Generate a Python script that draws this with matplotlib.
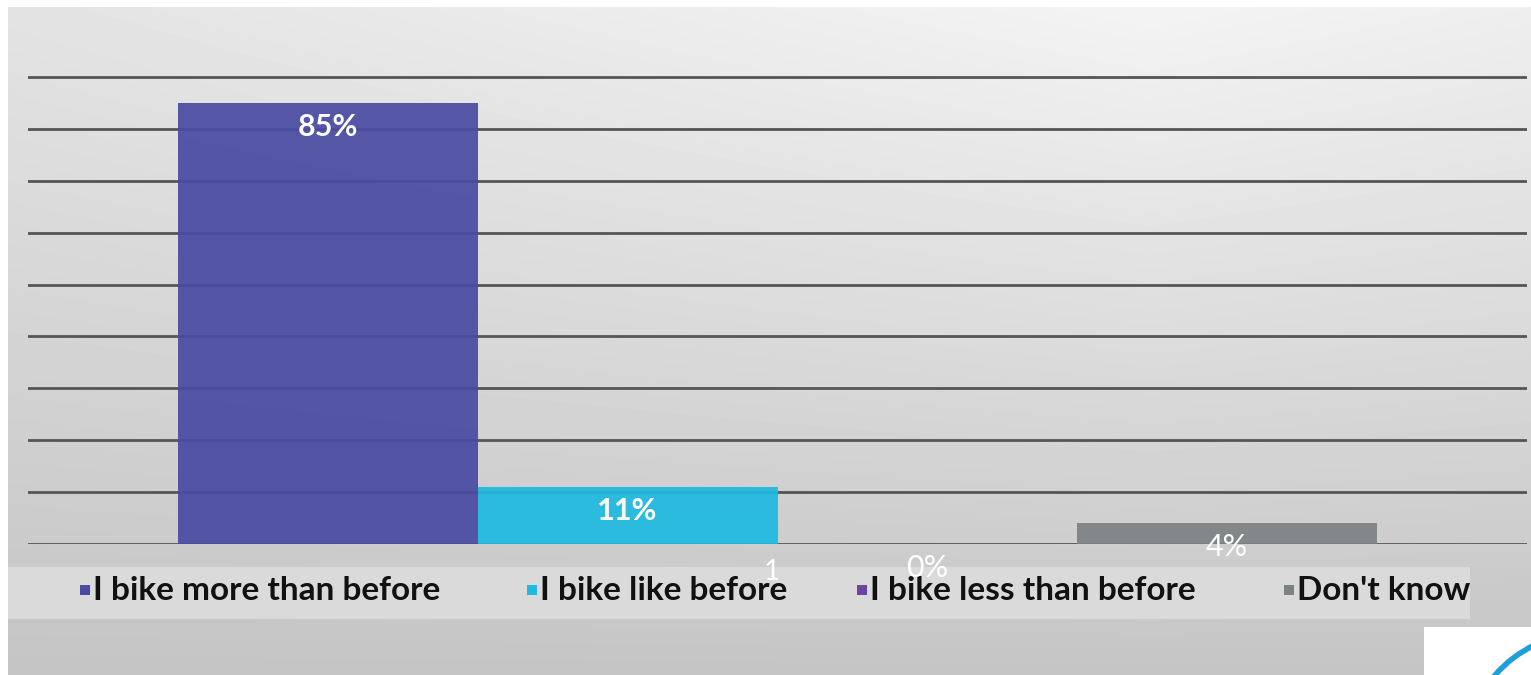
import numpy as np
import matplotlib
matplotlib.use("Agg")
import matplotlib.pyplot as plt
from matplotlib.patches import Rectangle, Arc

# data
categories = ["I bike more than before", "I bike like before",
              "I bike less than before", "Don't know"]
values = [85, 11, 0, 4]
labels = ["85%", "11%", "0%", "4%"]
colors = ["#4b4ba3", "#1fbae0", "#6a44a0", "#7d8284"]

W, H = 1531, 675
plt.rcParams['font.family'] = ['Lato', 'DejaVu Sans']

fig = plt.figure(figsize=(W / 100, H / 100), dpi=100, facecolor='white')

# decoration layer in pixel coordinates
bg = fig.add_axes([0, 0, 1, 1], zorder=0)
bg.axis('off')

yy, xx = np.mgrid[7:H, 8:W].astype(float)
fy = (yy - 7) / (H - 7)
grad = 0.955 - 0.185 * fy - 0.065 * (np.abs(xx - 1150) / 1150) * (1 - fy)
bg.imshow(grad, cmap='gray', vmin=0, vmax=1, extent=(8, W, H, 7),
          aspect='auto', interpolation='bilinear')
bg.set_xlim(0, W)
bg.set_ylim(H, 0)

# legend strip
bg.add_patch(Rectangle((8, 567), 1462, 52, facecolor='#dadada', edgecolor='none'))

# logo corner
bg.add_patch(Rectangle((1424, 627), W - 1424, H - 627, facecolor='white', edgecolor='none'))
bg.add_patch(Arc((1600, 740), 260, 220, theta1=200, theta2=250,
                 color='#1e9fd8', lw=4))

# main chart
ax = fig.add_axes([28 / W, (H - 544) / H, 1499 / W, 519 / H], zorder=1)
ax.patch.set_alpha(0)
x = np.arange(len(values))
ax.bar(x, values, width=1.0, color=colors, alpha=0.93, zorder=2)
ax.set_xlim(-1.0, 4.0)
ax.set_ylim(0, 100)
ax.set_yticks(range(0, 100, 10))
ax.yaxis.grid(True, color='#555555', lw=2.0, zorder=1)
ax.set_axisbelow(True)
ax.tick_params(left=False, bottom=False, labelleft=False, labelbottom=False)
for s in ax.spines.values():
    s.set_visible(False)

for i, (v, lab) in enumerate(zip(values, labels)):
    ax.text(i, v - 4.6, lab, ha='center', va='center', color='white',
            fontsize=22, fontweight='bold' if v > 5 else 'normal',
            clip_on=False, zorder=4)
ax.text(1.48, -5.4, "1", ha='center', va='center', color='white',
        fontsize=20, clip_on=False, zorder=4)

# legend entries
marker_x = [80, 527, 857, 1284]
for mx, cat, c in zip(marker_x, categories, colors):
    bg.add_patch(Rectangle((mx, 585), 10, 10, facecolor=c, edgecolor='none'))
    bg.text(mx + 13, 590, cat, ha='left', va='center', fontsize=24,
            fontweight='bold', color='#111111')

fig.savefig("out.png", dpi=100, facecolor='white')
